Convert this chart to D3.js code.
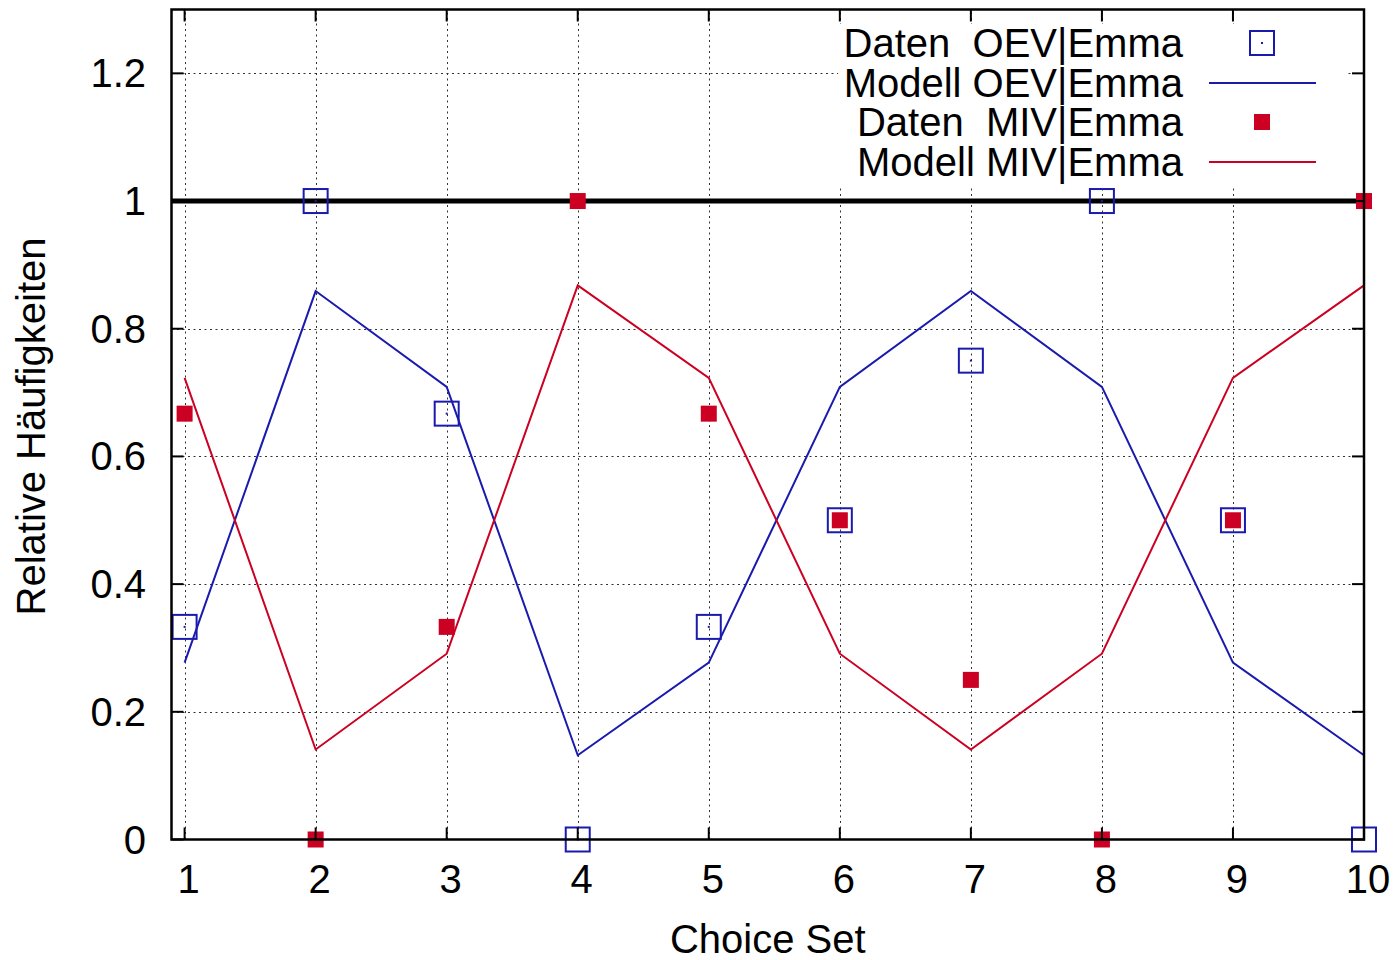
<!DOCTYPE html>
<html>
<head>
<meta charset="utf-8">
<script src="https://cdn.jsdelivr.net/npm/d3@7"></script>
<style>
  html, body { margin: 0; padding: 0; background: #fff; }
  svg { display: block; font-family: "Liberation Sans", Arial, Helvetica, sans-serif; }
  text { white-space: pre; }
</style>
</head>
<body>
<svg id="chart" width="1396" height="960"></svg>
<script>
// ---- data ----
const choiceSets = [1, 2, 3, 4, 5, 6, 7, 8, 9, 10];
const datenOEV  = [0.333, 1, 0.667, 0, 0.333, 0.5, 0.75, 1, 0.5, 0];
const modellOEV = [0.277, 0.859, 0.709, 0.132, 0.277, 0.709, 0.859, 0.709, 0.277, 0.132];
const datenMIV  = [0.667, 0, 0.333, 1, 0.667, 0.5, 0.25, 0, 0.5, 1];
const modellMIV = [0.723, 0.141, 0.291, 0.868, 0.723, 0.291, 0.141, 0.291, 0.723, 0.868];
const xTicks = [1, 2, 3, 4, 5, 6, 7, 8, 9, 10];
const yTicks = [0, 0.2, 0.4, 0.6, 0.8, 1, 1.2];
const yTickLabels = ["0", "0.2", "0.4", "0.6", "0.8", "1", "1.2"];
const legendLabels = ["Daten  OEV|Emma", "Modell OEV|Emma", "Daten  MIV|Emma", "Modell MIV|Emma"];
const xTitle = "Choice Set";
const yTitle = "Relative Häufigkeiten";

// ---- layout ----
const BLUE = "#1a1aae";
const RED = "#cc0022";
const FS = 40;
const L = 171.5, R = 1364, T = 9.5, B = 839.5;

const svg = d3.select("#chart");
const x = d3.scaleLinear().domain([0.9, 10]).range([L, R]);
const y = d3.scaleLinear().domain([0, 1.3]).range([B, T]);

// grid
const grid = svg.append("g").attr("stroke", "#333").attr("stroke-width", 1)
  .attr("stroke-dasharray", "2,3.5");
grid.selectAll("line.gx").data(xTicks.filter(d => d < 10)).join("line")
  .attr("x1", d => Math.round(x(d)) + 0.5).attr("x2", d => Math.round(x(d)) + 0.5)
  .attr("y1", B).attr("y2", T);
grid.selectAll("line.gy").data(yTicks.filter(d => d > 0)).join("line")
  .attr("y1", d => Math.round(y(d)) + 0.5).attr("y2", d => Math.round(y(d)) + 0.5)
  .attr("x1", L).attr("x2", R);

// reference line y = 1
svg.append("line").attr("x1", L).attr("x2", R)
  .attr("y1", y(1)).attr("y2", y(1))
  .attr("stroke", "#000").attr("stroke-width", 5);

// model lines
const line = d3.line().x((d, i) => x(choiceSets[i])).y(d => y(d));
svg.append("path").datum(modellOEV).attr("d", line)
  .attr("fill", "none").attr("stroke", BLUE).attr("stroke-width", 2);
svg.append("path").datum(modellMIV).attr("d", line)
  .attr("fill", "none").attr("stroke", RED).attr("stroke-width", 2);

// data points
function openSquare(g, cx, cy) {
  g.append("rect").attr("x", cx - 12).attr("y", cy - 12).attr("width", 24).attr("height", 24)
    .attr("fill", "none").attr("stroke", BLUE).attr("stroke-width", 2);
  g.append("rect").attr("x", cx - 1).attr("y", cy - 1).attr("width", 2).attr("height", 2)
    .attr("fill", BLUE);
}
function filledSquare(g, cx, cy) {
  g.append("rect").attr("x", cx - 8).attr("y", cy - 8).attr("width", 16).attr("height", 16)
    .attr("fill", RED);
}
const pts = svg.append("g");
datenOEV.forEach((v, i) => openSquare(pts, x(choiceSets[i]), y(v)));
datenMIV.forEach((v, i) => filledSquare(pts, x(choiceSets[i]), y(v)));

// legend (opaque)
const lg = svg.append("g");
lg.append("rect").attr("x", 838).attr("y", 24).attr("width", 507).attr("height", 162).attr("fill", "#fff");
const rowY = [43, 83, 122, 162];
legendLabels.forEach((t, i) => {
  lg.append("text").attr("x", 1183).attr("y", rowY[i] + 14)
    .attr("text-anchor", "end").attr("font-size", FS).attr("fill", "#000").text(t);
});
openSquare(lg, 1262, rowY[0]);
lg.append("line").attr("x1", 1209).attr("x2", 1316).attr("y1", rowY[1]).attr("y2", rowY[1])
  .attr("stroke", BLUE).attr("stroke-width", 2);
filledSquare(lg, 1262, rowY[2]);
lg.append("line").attr("x1", 1209).attr("x2", 1316).attr("y1", rowY[3]).attr("y2", rowY[3])
  .attr("stroke", RED).attr("stroke-width", 2);

// ticks (inward, mirrored)
const tk = svg.append("g").attr("stroke", "#000").attr("stroke-width", 2);
const TL = 12;
xTicks.forEach(d => {
  tk.append("line").attr("x1", x(d)).attr("x2", x(d)).attr("y1", B).attr("y2", B - TL);
  tk.append("line").attr("x1", x(d)).attr("x2", x(d)).attr("y1", T).attr("y2", T + TL);
});
yTicks.forEach(d => {
  tk.append("line").attr("x1", L).attr("x2", L + TL).attr("y1", y(d)).attr("y2", y(d));
  tk.append("line").attr("x1", R).attr("x2", R - TL).attr("y1", y(d)).attr("y2", y(d));
});

// frame
svg.append("rect").attr("x", L).attr("y", T).attr("width", R - L).attr("height", B - T)
  .attr("fill", "none").attr("stroke", "#000").attr("stroke-width", 2.5);

// tick labels
svg.append("g").selectAll("text").data(xTicks).join("text")
  .attr("x", d => x(d) + 4).attr("y", 893)
  .attr("text-anchor", "middle").attr("font-size", FS).text(d => d);
svg.append("g").selectAll("text").data(yTicks).join("text")
  .attr("x", 146).attr("y", d => y(d) + 14)
  .attr("text-anchor", "end").attr("font-size", FS).text((d, i) => yTickLabels[i]);

// axis titles
svg.append("text").attr("x", (L + R) / 2).attr("y", 953)
  .attr("text-anchor", "middle").attr("font-size", FS).text(xTitle);
svg.append("text").attr("transform", "translate(45," + ((T + B) / 2 + 2) + ") rotate(-90)")
  .attr("text-anchor", "middle").attr("font-size", FS).text(yTitle);
</script>
</body>
</html>
